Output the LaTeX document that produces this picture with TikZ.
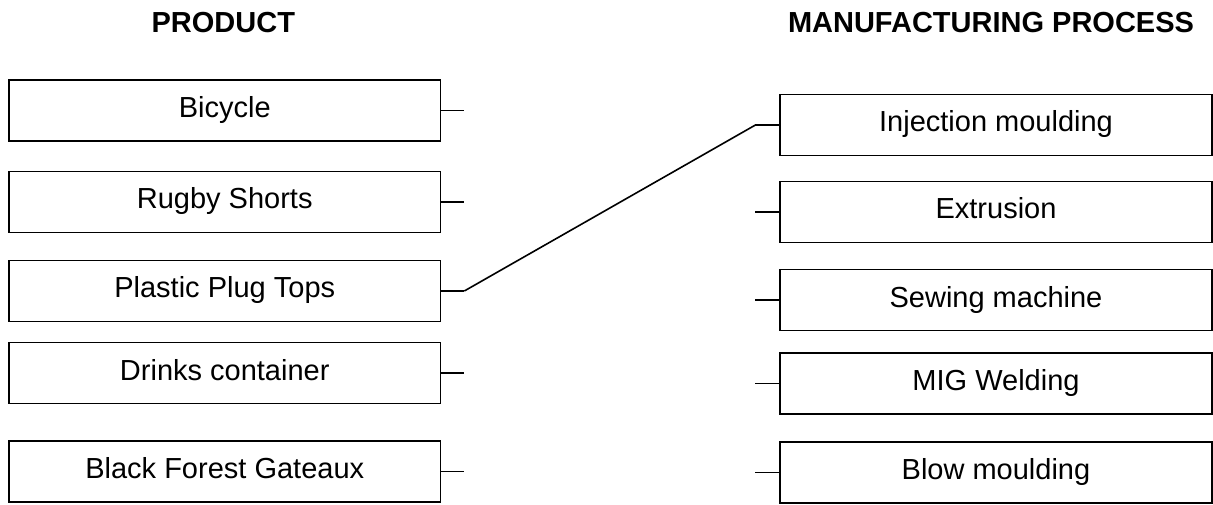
\documentclass[tikz,border=0pt]{standalone}
\usepackage{fontspec}
\setmainfont{Liberation Sans}
\begin{document}
\begin{tikzpicture}[x=1pt,y=-1pt,
  itembox/.style={draw=black, line width=1.6pt, rectangle, inner sep=0pt,
    minimum width=431.5pt, minimum height=61pt,
    font=\fontsize{29}{33}\selectfont, text height=20.8pt, text depth=6.8pt},
  heading/.style={anchor=base, inner sep=0pt, font=\fontsize{29}{33}\selectfont\bfseries},
  stub/.style={line width=1.6pt}]
\useasboundingbox (0,0) rectangle (1213,505);

% column headings
\node[heading] (hprod) at (223.3,33) {PRODUCT};
\node[heading] (hproc) at (991,33) {MANUFACTURING PROCESS};

% products
\node[itembox] (bike)   at (224.75,110.5) {Bicycle};
\node[itembox] (shorts) at (224.75,202)   {Rugby Shorts};
\node[itembox] (plug)   at (224.75,291)   {Plastic Plug Tops};
\node[itembox] (drinks) at (224.75,373)   {Drinks container};
\node[itembox] (cake)   at (224.75,471.5) {Black Forest Gateaux};

% processes
\node[itembox] (inject) at (996,125) {Injection moulding};
\node[itembox] (extr)   at (996,212)   {Extrusion};
\node[itembox] (sew)    at (996,300)   {Sewing machine};
\node[itembox] (mig)    at (996,383.5) {MIG Welding};
\node[itembox] (blow)   at (996,472.5) {Blow moulding};

% connection stubs
\draw[stub] (bike.east)   -- ++(23,0) coordinate (bikeEnd);
\draw[stub] (shorts.east) -- ++(23,0) coordinate (shortsEnd);
\draw[stub] (plug.east)   -- ++(23,0) coordinate (plugEnd);
\draw[stub] (drinks.east) -- ++(23,0) coordinate (drinksEnd);
\draw[stub] (cake.east)   -- ++(23,0) coordinate (cakeEnd);

\draw[stub] (inject.west) -- ++(-24,0) coordinate (injectEnd);
\draw[stub] (extr.west)   -- ++(-24,0) coordinate (extrEnd);
\draw[stub] (sew.west)    -- ++(-24,0) coordinate (sewEnd);
\draw[stub] (mig.west)    -- ++(-24,0) coordinate (migEnd);
\draw[stub] (blow.west)   -- ++(-24,0) coordinate (blowEnd);

% the one completed match
\draw[stub] (plugEnd) -- (injectEnd);
\end{tikzpicture}
\end{document}
